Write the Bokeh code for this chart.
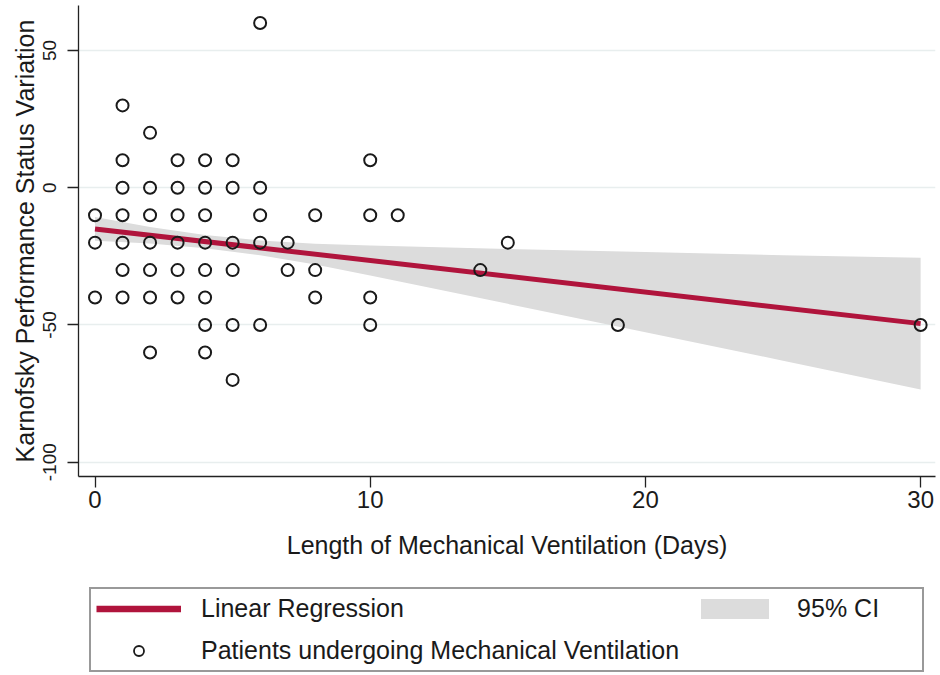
from bokeh.plotting import figure
from bokeh.models import Range1d, FixedTicker, Legend, LegendItem
from bokeh.layouts import column
from bokeh.embed import file_html
from bokeh.resources import INLINE

# ---- data ----
vent_days = [0, 0, 0,
             1, 1, 1, 1, 1, 1, 1,
             2, 2, 2, 2, 2, 2, 2,
             3, 3, 3, 3, 3, 3,
             4, 4, 4, 4, 4, 4, 4, 4,
             5, 5, 5, 5, 5, 5,
             6, 6, 6, 6, 6,
             7, 7,
             8, 8, 8,
             10, 10, 10, 10,
             11, 14, 15, 19, 30]
kps_change = [-10, -20, -40,
              30, 10, 0, -10, -20, -30, -40,
              20, 0, -10, -20, -30, -40, -60,
              10, 0, -10, -20, -30, -40,
              10, 0, -10, -20, -30, -40, -50, -60,
              10, 0, -20, -30, -50, -70,
              60, 0, -10, -20, -50,
              -20, -30,
              -10, -30, -40,
              10, -10, -40, -50,
              -10, -30, -20, -50, -50]

fit_x = [0, 30]
fit_y = [-15.0, -49.5]

ci_x = [0, 2, 4, 6, 8, 10, 15, 20, 25, 30]
ci_upper = [-10.7, -14.3, -17.2, -19.2, -20.4, -21.0, -22.3, -23.4, -24.6, -25.5]
ci_lower = [-19.3, -20.3, -22.0, -24.6, -28.0, -32.0, -42.3, -52.6, -63.0, -73.5]

x_ticks = [0, 10, 20, 30]
y_ticks = [-100, -50, 0, 50]
y_tick_labels = {-100: "-100", -50: "-50", 0: "0", 50: "50"}

FONT = "Liberation Sans"
TXT = "#1a1a1a"
RED = "#b0143c"
BAND = "#dcdcdc"

p = figure(width=940, height=578, output_backend="svg", toolbar_location=None,
           x_range=Range1d(-0.6, 30.54), y_range=Range1d(-105.2, 66.4),
           min_border_left=78, min_border_right=5, min_border_top=5,
           min_border_bottom=102, background_fill_color="white",
           border_fill_color="white")
p.outline_line_color = None

band = p.varea(x=ci_x, y1=ci_lower, y2=ci_upper, fill_color=BAND, fill_alpha=1.0)
line = p.line(x=fit_x, y=fit_y, line_color=RED, line_width=5)
pts = p.scatter(x=vent_days, y=kps_change, marker="circle", size=12,
                fill_color=None, line_color="#1a1a1a", line_width=2)

# grid
p.xgrid.visible = False
p.ygrid.ticker = FixedTicker(ticks=y_ticks)
p.ygrid.grid_line_color = "#e8eeee"
p.ygrid.grid_line_width = 1.5

# axes
for ax in (p.xaxis[0], p.yaxis[0]):
    ax.axis_line_color = "#222222"
    ax.axis_line_width = 1.3
    ax.major_tick_line_color = "#222222"
    ax.major_tick_line_width = 1.3
    ax.major_tick_in = 0
    ax.major_tick_out = 11
    ax.minor_tick_line_color = None
    ax.major_label_text_font = FONT
    ax.major_label_text_color = TXT
    ax.axis_label_text_font = FONT
    ax.axis_label_text_font_size = "25px"
    ax.axis_label_text_font_style = "normal"
    ax.axis_label_text_color = TXT

p.xaxis.ticker = FixedTicker(ticks=x_ticks)
p.xaxis.major_label_text_font_size = "24px"
p.xaxis.major_label_standoff = 3
p.xaxis.axis_label = "Length of Mechanical Ventilation (Days)"
p.xaxis.axis_label_standoff = 20

p.yaxis.ticker = FixedTicker(ticks=y_ticks)
p.yaxis.major_label_overrides = y_tick_labels
p.yaxis.major_label_text_font_size = "19px"
p.yaxis.major_label_standoff = 11
p.yaxis.major_label_orientation = "vertical"
p.yaxis.axis_label = "Karnofsky Performance Status Variation"
p.yaxis.axis_label_standoff = 2

# ---- legend strip under the plot ----
# proxy renderers carry the same styles; their data lies outside this strip's
# ranges so only the legend glyphs are visible
lg = figure(width=940, height=97, output_backend="svg", toolbar_location=None,
            x_range=Range1d(1000, 1001), y_range=Range1d(1000, 1001),
            min_border_left=78, min_border_right=5, min_border_top=0,
            min_border_bottom=0, background_fill_color="white",
            border_fill_color="white")
lg.outline_line_color = None
lg.axis.visible = False
lg.grid.visible = False
lg_line = lg.line(x=fit_x, y=fit_y, line_color=RED, line_width=6.5)
lg_band = lg.varea(x=ci_x, y1=ci_lower, y2=ci_upper, fill_color=BAND, fill_alpha=1.0)
lg_pts = lg.scatter(x=vent_days, y=kps_change, marker="circle", size=9,
                    fill_color=None, line_color="#1a1a1a", line_width=1.8)

legend = Legend(items=[
    LegendItem(label="Linear Regression", renderers=[lg_line]),
    LegendItem(label="95% CI", renderers=[lg_band]),
    LegendItem(label="Patients undergoing Mechanical Ventilation", renderers=[lg_pts]),
], ncols=2, orientation="horizontal", location=(11, 3),
    glyph_width=85, glyph_height=25, label_standoff=20, spacing=13,
    label_width=120, padding=5, margin=0,
    label_text_font=FONT, label_text_font_size="25px",
    label_text_color=TXT, border_line_color="#333333", border_line_width=2,
    background_fill_color="white")
lg.add_layout(legend, "center")

layout = column(p, lg, spacing=0)
open("out.html", "w").write(file_html(layout, INLINE))
